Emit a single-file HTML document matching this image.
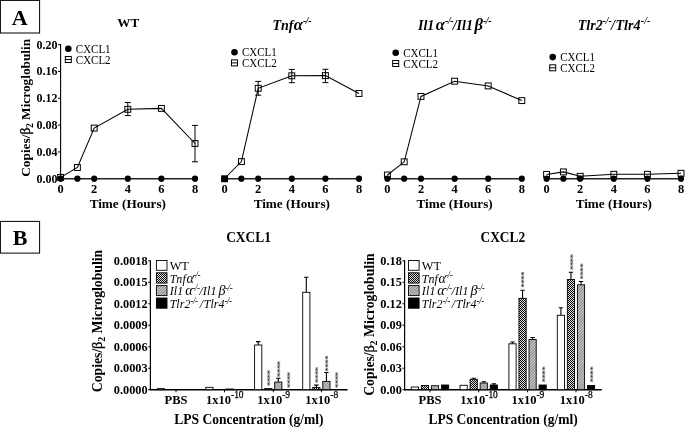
<!DOCTYPE html>
<html><head><meta charset="utf-8"><title>Figure</title>
<style>html,body{margin:0;padding:0;background:#fff;}svg{display:block;}text{font-family:"Liberation Serif", serif;fill:#000;}.b{font-weight:bold;}.i{font-style:italic;}.bi{font-weight:bold;font-style:italic;}.ast{fill:#3a3a3a;font-size:8.5px;font-weight:bold;letter-spacing:-0.35px;}</style></head><body>
<svg width="685" height="428" viewBox="0 0 685 428">
<defs>
<pattern id="chk" width="2" height="2" patternUnits="userSpaceOnUse"><rect width="2" height="2" fill="#e4e4e4"/><rect x="0" y="0" width="1" height="1" fill="#000"/><rect x="1" y="1" width="1" height="1" fill="#000"/></pattern>
<pattern id="hat" width="2" height="2" patternUnits="userSpaceOnUse" patternTransform="rotate(-45)"><rect width="2" height="2" fill="#cecece"/><rect width="2" height="0.9" fill="#808080"/></pattern>
</defs>
<rect width="685" height="428" fill="#fff"/>
<rect x="0.4" y="0.4" width="39.2" height="32.6" fill="#fff" stroke="#000" stroke-width="1"/>
<text class="b" x="19.80" y="25.10" font-size="22" text-anchor="middle">A</text>
<rect x="0.4" y="221.4" width="39.2" height="31.7" fill="#fff" stroke="#000" stroke-width="1"/>
<text class="b" x="20.20" y="245.00" font-size="22" text-anchor="middle">B</text>
<text class="b" font-size="13.3" text-anchor="middle" transform="translate(29.7,107.8) rotate(-90) scale(1.000 1)">Copies/<tspan font-size="14.0" dx="-0.2" font-weight="normal" stroke="#000" stroke-width="0.35">β</tspan><tspan font-size="9.6" dy="3" dx="-0.3">2</tspan><tspan dy="-3"> Microglobulin</tspan></text>
<path d="M60.60 44.10V179.30" stroke="#000" stroke-width="1.1" fill="none"/>
<path d="M58.00 178.80H60.60" stroke="#000" stroke-width="1"/>
<text class="b" x="57.60" y="182.80" font-size="12" text-anchor="end">0.00</text>
<path d="M58.00 151.96H60.60" stroke="#000" stroke-width="1"/>
<text class="b" x="57.60" y="155.96" font-size="12" text-anchor="end">0.04</text>
<path d="M58.00 125.12H60.60" stroke="#000" stroke-width="1"/>
<text class="b" x="57.60" y="129.12" font-size="12" text-anchor="end">0.08</text>
<path d="M58.00 98.28H60.60" stroke="#000" stroke-width="1"/>
<text class="b" x="57.60" y="102.28" font-size="12" text-anchor="end">0.12</text>
<path d="M58.00 71.44H60.60" stroke="#000" stroke-width="1"/>
<text class="b" x="57.60" y="75.44" font-size="12" text-anchor="end">0.16</text>
<path d="M58.00 44.60H60.60" stroke="#000" stroke-width="1"/>
<text class="b" x="57.60" y="48.60" font-size="12" text-anchor="end">0.20</text>
<path d="M60.10 178.80H195.50" stroke="#222" stroke-width="1.4" fill="none"/>
<path d="M60.60 178.80V181.80" stroke="#000" stroke-width="1"/>
<text class="b" x="60.60" y="192.80" font-size="12.4" text-anchor="middle">0</text>
<path d="M94.20 178.80V181.80" stroke="#000" stroke-width="1"/>
<text class="b" x="94.20" y="192.80" font-size="12.4" text-anchor="middle">2</text>
<path d="M127.80 178.80V181.80" stroke="#000" stroke-width="1"/>
<text class="b" x="127.80" y="192.80" font-size="12.4" text-anchor="middle">4</text>
<path d="M161.40 178.80V181.80" stroke="#000" stroke-width="1"/>
<text class="b" x="161.40" y="192.80" font-size="12.4" text-anchor="middle">6</text>
<path d="M195.00 178.80V181.80" stroke="#000" stroke-width="1"/>
<text class="b" x="195.00" y="192.80" font-size="12.4" text-anchor="middle">8</text>
<text class="b" x="127.80" y="208.20" font-size="13.2" text-anchor="middle">Time (Hours)</text>
<text class="b" x="128.20" y="27.00" font-size="13.2" text-anchor="middle">WT</text>
<polyline points="60.60,177.40 77.40,167.50 94.20,128.10 127.80,109.30 161.40,108.40 195.00,143.50" fill="none" stroke="#000" stroke-width="1.05"/>
<path d="M127.80 102.50V115.60M124.80 102.50H130.80M124.80 115.60H130.80" stroke="#000" stroke-width="1.0" fill="none"/>
<path d="M195.00 125.40V161.80M192.00 125.40H198.00M192.00 161.80H198.00" stroke="#000" stroke-width="1.0" fill="none"/>
<circle cx="60.60" cy="178.70" r="3.10" fill="#000"/>
<circle cx="77.40" cy="178.70" r="3.10" fill="#000"/>
<circle cx="94.20" cy="178.70" r="3.10" fill="#000"/>
<circle cx="127.80" cy="178.70" r="3.10" fill="#000"/>
<circle cx="161.40" cy="178.70" r="3.10" fill="#000"/>
<circle cx="195.00" cy="178.70" r="3.10" fill="#000"/>
<rect x="57.65" y="174.45" width="5.90" height="5.90" fill="none" stroke="#000" stroke-width="1.00"/>
<rect x="74.45" y="164.55" width="5.90" height="5.90" fill="none" stroke="#000" stroke-width="1.00"/>
<rect x="91.25" y="125.15" width="5.90" height="5.90" fill="none" stroke="#000" stroke-width="1.00"/>
<rect x="124.85" y="106.35" width="5.90" height="5.90" fill="none" stroke="#000" stroke-width="1.00"/>
<rect x="158.45" y="105.45" width="5.90" height="5.90" fill="none" stroke="#000" stroke-width="1.00"/>
<rect x="192.05" y="140.55" width="5.90" height="5.90" fill="none" stroke="#000" stroke-width="1.00"/>
<circle cx="68.30" cy="48.80" r="3.30" fill="#000"/>
<text transform="translate(75.80 52.70) scale(0.940 1)" font-size="11.7" text-anchor="start">CXCL1</text>
<rect x="65.30" y="56.50" width="6.00" height="6.00" fill="none" stroke="#000" stroke-width="1.00"/>
<path d="M65.30 59.50H71.30" stroke="#000" stroke-width="1"/>
<text transform="translate(75.80 63.70) scale(0.940 1)" font-size="11.7" text-anchor="start">CXCL2</text>
<path d="M224.10 178.80H359.50" stroke="#222" stroke-width="1.4" fill="none"/>
<path d="M224.60 178.80V181.80" stroke="#000" stroke-width="1"/>
<text class="b" x="224.60" y="192.80" font-size="12.4" text-anchor="middle">0</text>
<path d="M258.20 178.80V181.80" stroke="#000" stroke-width="1"/>
<text class="b" x="258.20" y="192.80" font-size="12.4" text-anchor="middle">2</text>
<path d="M291.80 178.80V181.80" stroke="#000" stroke-width="1"/>
<text class="b" x="291.80" y="192.80" font-size="12.4" text-anchor="middle">4</text>
<path d="M325.40 178.80V181.80" stroke="#000" stroke-width="1"/>
<text class="b" x="325.40" y="192.80" font-size="12.4" text-anchor="middle">6</text>
<path d="M359.00 178.80V181.80" stroke="#000" stroke-width="1"/>
<text class="b" x="359.00" y="192.80" font-size="12.4" text-anchor="middle">8</text>
<text class="b" x="291.80" y="208.20" font-size="13.2" text-anchor="middle">Time (Hours)</text>
<text class="bi" x="272.50" y="30.00" font-size="14" text-anchor="start">Tnf<tspan dx="0.3" font-size="16.5">α</tspan><tspan font-size="10" dy="-6.2" dx="0" letter-spacing="-0.4">-/-</tspan></text>
<polyline points="224.60,178.50 241.40,161.60 258.20,88.30 291.80,75.80 325.40,75.60 359.00,93.50" fill="none" stroke="#000" stroke-width="1.05"/>
<path d="M258.20 81.40V95.20M255.20 81.40H261.20M255.20 95.20H261.20" stroke="#000" stroke-width="1.0" fill="none"/>
<path d="M291.80 69.40V82.70M288.80 69.40H294.80M288.80 82.70H294.80" stroke="#000" stroke-width="1.0" fill="none"/>
<path d="M325.40 69.30V82.60M322.40 69.30H328.40M322.40 82.60H328.40" stroke="#000" stroke-width="1.0" fill="none"/>
<circle cx="241.40" cy="178.70" r="3.10" fill="#000"/>
<circle cx="258.20" cy="178.70" r="3.10" fill="#000"/>
<circle cx="291.80" cy="178.70" r="3.10" fill="#000"/>
<circle cx="325.40" cy="178.70" r="3.10" fill="#000"/>
<circle cx="359.00" cy="178.70" r="3.10" fill="#000"/>
<rect x="221.65" y="175.85" width="5.90" height="5.90" fill="#000" stroke="#000" stroke-width="1.00"/>
<rect x="238.45" y="158.65" width="5.90" height="5.90" fill="none" stroke="#000" stroke-width="1.00"/>
<rect x="255.25" y="85.35" width="5.90" height="5.90" fill="none" stroke="#000" stroke-width="1.00"/>
<rect x="288.85" y="72.85" width="5.90" height="5.90" fill="none" stroke="#000" stroke-width="1.00"/>
<rect x="322.45" y="72.65" width="5.90" height="5.90" fill="none" stroke="#000" stroke-width="1.00"/>
<rect x="356.05" y="90.55" width="5.90" height="5.90" fill="none" stroke="#000" stroke-width="1.00"/>
<circle cx="234.50" cy="52.20" r="3.30" fill="#000"/>
<text transform="translate(242.00 56.10) scale(0.940 1)" font-size="11.7" text-anchor="start">CXCL1</text>
<rect x="231.50" y="59.90" width="6.00" height="6.00" fill="none" stroke="#000" stroke-width="1.00"/>
<path d="M231.50 62.90H237.50" stroke="#000" stroke-width="1"/>
<text transform="translate(242.00 67.10) scale(0.940 1)" font-size="11.7" text-anchor="start">CXCL2</text>
<path d="M386.90 178.80H522.30" stroke="#222" stroke-width="1.4" fill="none"/>
<path d="M387.40 178.80V181.80" stroke="#000" stroke-width="1"/>
<text class="b" x="387.40" y="192.80" font-size="12.4" text-anchor="middle">0</text>
<path d="M421.00 178.80V181.80" stroke="#000" stroke-width="1"/>
<text class="b" x="421.00" y="192.80" font-size="12.4" text-anchor="middle">2</text>
<path d="M454.60 178.80V181.80" stroke="#000" stroke-width="1"/>
<text class="b" x="454.60" y="192.80" font-size="12.4" text-anchor="middle">4</text>
<path d="M488.20 178.80V181.80" stroke="#000" stroke-width="1"/>
<text class="b" x="488.20" y="192.80" font-size="12.4" text-anchor="middle">6</text>
<path d="M521.80 178.80V181.80" stroke="#000" stroke-width="1"/>
<text class="b" x="521.80" y="192.80" font-size="12.4" text-anchor="middle">8</text>
<text class="b" x="454.60" y="208.20" font-size="13.2" text-anchor="middle">Time (Hours)</text>
<text class="bi" x="418.00" y="30.00" font-size="14" text-anchor="start">Il1<tspan dx="1.5" font-size="16.5">α</tspan><tspan font-size="10" dy="-6.2" dx="0" letter-spacing="-0.4">-/-</tspan><tspan dy="6.2" dx="-0.5">/Il1</tspan><tspan dx="1.5" font-size="16.5">β</tspan><tspan font-size="10" dy="-6.2" dx="0" letter-spacing="-0.4">-/-</tspan></text>
<polyline points="387.40,175.00 404.20,161.80 421.00,96.40 454.60,81.20 488.20,85.90 521.80,100.60" fill="none" stroke="#000" stroke-width="1.05"/>
<circle cx="387.40" cy="178.70" r="3.10" fill="#000"/>
<circle cx="404.20" cy="178.70" r="3.10" fill="#000"/>
<circle cx="421.00" cy="178.70" r="3.10" fill="#000"/>
<circle cx="454.60" cy="178.70" r="3.10" fill="#000"/>
<circle cx="488.20" cy="178.70" r="3.10" fill="#000"/>
<circle cx="521.80" cy="178.70" r="3.10" fill="#000"/>
<rect x="384.45" y="172.05" width="5.90" height="5.90" fill="none" stroke="#000" stroke-width="1.00"/>
<rect x="401.25" y="158.85" width="5.90" height="5.90" fill="none" stroke="#000" stroke-width="1.00"/>
<rect x="418.05" y="93.45" width="5.90" height="5.90" fill="none" stroke="#000" stroke-width="1.00"/>
<rect x="451.65" y="78.25" width="5.90" height="5.90" fill="none" stroke="#000" stroke-width="1.00"/>
<rect x="485.25" y="82.95" width="5.90" height="5.90" fill="none" stroke="#000" stroke-width="1.00"/>
<rect x="518.85" y="97.65" width="5.90" height="5.90" fill="none" stroke="#000" stroke-width="1.00"/>
<circle cx="395.70" cy="52.80" r="3.30" fill="#000"/>
<text transform="translate(403.20 56.70) scale(0.940 1)" font-size="11.7" text-anchor="start">CXCL1</text>
<rect x="392.70" y="60.50" width="6.00" height="6.00" fill="none" stroke="#000" stroke-width="1.00"/>
<path d="M392.70 63.50H398.70" stroke="#000" stroke-width="1"/>
<text transform="translate(403.20 67.70) scale(0.940 1)" font-size="11.7" text-anchor="start">CXCL2</text>
<path d="M546.10 178.80H681.50" stroke="#222" stroke-width="1.4" fill="none"/>
<path d="M546.60 178.80V181.80" stroke="#000" stroke-width="1"/>
<text class="b" x="546.60" y="192.80" font-size="12.4" text-anchor="middle">0</text>
<path d="M580.20 178.80V181.80" stroke="#000" stroke-width="1"/>
<text class="b" x="580.20" y="192.80" font-size="12.4" text-anchor="middle">2</text>
<path d="M613.80 178.80V181.80" stroke="#000" stroke-width="1"/>
<text class="b" x="613.80" y="192.80" font-size="12.4" text-anchor="middle">4</text>
<path d="M647.40 178.80V181.80" stroke="#000" stroke-width="1"/>
<text class="b" x="647.40" y="192.80" font-size="12.4" text-anchor="middle">6</text>
<path d="M681.00 178.80V181.80" stroke="#000" stroke-width="1"/>
<text class="b" x="681.00" y="192.80" font-size="12.4" text-anchor="middle">8</text>
<text class="b" x="613.80" y="208.20" font-size="13.2" text-anchor="middle">Time (Hours)</text>
<text class="bi" x="577.80" y="30.00" font-size="14" text-anchor="start">Tlr2<tspan font-size="10" dy="-6.2" dx="-0.3" letter-spacing="0">-/-</tspan><tspan dy="6.2" dx="-0.8">/</tspan><tspan dx="0.6">Tlr4</tspan><tspan font-size="10" dy="-6.2" dx="0.3" letter-spacing="0.1">-/-</tspan></text>
<polyline points="546.60,174.40 563.40,171.90 580.20,176.30 613.80,174.30 647.40,174.30 681.00,173.30" fill="none" stroke="#000" stroke-width="1.05"/>
<circle cx="546.60" cy="178.70" r="3.10" fill="#000"/>
<circle cx="563.40" cy="178.70" r="3.10" fill="#000"/>
<circle cx="580.20" cy="178.70" r="3.10" fill="#000"/>
<circle cx="613.80" cy="178.70" r="3.10" fill="#000"/>
<circle cx="647.40" cy="178.70" r="3.10" fill="#000"/>
<circle cx="681.00" cy="178.70" r="3.10" fill="#000"/>
<rect x="543.65" y="171.45" width="5.90" height="5.90" fill="none" stroke="#000" stroke-width="1.00"/>
<rect x="560.45" y="168.95" width="5.90" height="5.90" fill="none" stroke="#000" stroke-width="1.00"/>
<rect x="577.25" y="173.35" width="5.90" height="5.90" fill="none" stroke="#000" stroke-width="1.00"/>
<rect x="610.85" y="171.35" width="5.90" height="5.90" fill="none" stroke="#000" stroke-width="1.00"/>
<rect x="644.45" y="171.35" width="5.90" height="5.90" fill="none" stroke="#000" stroke-width="1.00"/>
<rect x="678.05" y="170.35" width="5.90" height="5.90" fill="none" stroke="#000" stroke-width="1.00"/>
<circle cx="552.70" cy="57.10" r="3.30" fill="#000"/>
<text transform="translate(560.20 61.00) scale(0.940 1)" font-size="11.7" text-anchor="start">CXCL1</text>
<rect x="549.70" y="64.80" width="6.00" height="6.00" fill="none" stroke="#000" stroke-width="1.00"/>
<path d="M549.70 67.80H555.70" stroke="#000" stroke-width="1"/>
<text transform="translate(560.20 72.00) scale(0.940 1)" font-size="11.7" text-anchor="start">CXCL2</text>
<path d="M150.40 260.32V390.30" stroke="#000" stroke-width="1.2" fill="none"/>
<path d="M149.80 389.70H347.60" stroke="#000" stroke-width="1.35" fill="none"/>
<path d="M148.20 389.70H150.40" stroke="#000" stroke-width="1"/>
<text class="b" x="147.60" y="393.80" font-size="12.3" text-anchor="end">0.0000</text>
<path d="M148.20 368.22H150.40" stroke="#000" stroke-width="1"/>
<text class="b" x="147.60" y="372.32" font-size="12.3" text-anchor="end">0.0003</text>
<path d="M148.20 346.74H150.40" stroke="#000" stroke-width="1"/>
<text class="b" x="147.60" y="350.84" font-size="12.3" text-anchor="end">0.0006</text>
<path d="M148.20 325.26H150.40" stroke="#000" stroke-width="1"/>
<text class="b" x="147.60" y="329.36" font-size="12.3" text-anchor="end">0.0009</text>
<path d="M148.20 303.78H150.40" stroke="#000" stroke-width="1"/>
<text class="b" x="147.60" y="307.88" font-size="12.3" text-anchor="end">0.0012</text>
<path d="M148.20 282.30H150.40" stroke="#000" stroke-width="1"/>
<text class="b" x="147.60" y="286.40" font-size="12.3" text-anchor="end">0.0015</text>
<path d="M148.20 260.82H150.40" stroke="#000" stroke-width="1"/>
<text class="b" x="147.60" y="264.92" font-size="12.3" text-anchor="end">0.0018</text>
<text class="b" transform="translate(248.50 241.80) scale(0.940 1)" font-size="14.3" text-anchor="middle">CXCL1</text>
<text class="b" font-size="14.3" text-anchor="middle" transform="translate(102.1,321.0) rotate(-90) scale(0.962 1)">Copies/<tspan font-size="15.0" dx="-0.2" font-weight="normal" stroke="#000" stroke-width="0.35">β</tspan><tspan font-size="10.3" dy="3" dx="-0.3">2</tspan><tspan dy="-3"> Microglobulin</tspan></text>
<path d="M176.00 389.70V392.30" stroke="#000" stroke-width="1"/>
<text class="b" transform="translate(176.00 404.40) scale(0.985 1)" font-size="12.7" text-anchor="middle">PBS</text>
<rect x="157.30" y="388.60" width="7.2" height="1.10" fill="#fff" stroke="#000" stroke-width="0.9"/>
<path d="M224.50 389.70V392.30" stroke="#000" stroke-width="1"/>
<text class="b" transform="translate(224.80 404.40) scale(0.985 1)" font-size="12.7" text-anchor="middle">1x10<tspan font-size="9.6" dy="-6.2" font-weight="normal" stroke="#000" stroke-width="0.25">-10</tspan></text>
<rect x="205.80" y="387.30" width="7.2" height="2.40" fill="#fff" stroke="#000" stroke-width="0.9"/>
<rect x="225.90" y="389.00" width="7.2" height="0.70" fill="url(#hat)" stroke="#000" stroke-width="0.9"/>
<path d="M273.30 389.70V392.30" stroke="#000" stroke-width="1"/>
<text class="b" transform="translate(273.60 404.40) scale(0.985 1)" font-size="12.7" text-anchor="middle">1x10<tspan font-size="9.6" dy="-6.2" font-weight="normal" stroke="#000" stroke-width="0.25">-9</tspan></text>
<path d="M258.20 345.00V341.60M256.00 341.60H260.40" stroke="#000" stroke-width="1.1" fill="none"/>
<rect x="254.60" y="345.00" width="7.2" height="44.70" fill="#fff" stroke="#000" stroke-width="0.9"/>
<rect x="264.65" y="388.60" width="7.2" height="1.10" fill="url(#chk)" stroke="#000" stroke-width="0.9"/>
<path d="M278.30 382.10V378.30M276.10 378.30H280.50" stroke="#000" stroke-width="1.1" fill="none"/>
<rect x="274.70" y="382.10" width="7.2" height="7.60" fill="url(#hat)" stroke="#000" stroke-width="0.9"/>
<path d="M321.40 389.70V392.30" stroke="#000" stroke-width="1"/>
<text class="b" transform="translate(321.70 404.40) scale(0.985 1)" font-size="12.7" text-anchor="middle">1x10<tspan font-size="9.6" dy="-6.2" font-weight="normal" stroke="#000" stroke-width="0.25">-8</tspan></text>
<path d="M306.30 292.30V277.30M304.10 277.30H308.50" stroke="#000" stroke-width="1.1" fill="none"/>
<rect x="302.70" y="292.30" width="7.2" height="97.40" fill="#fff" stroke="#000" stroke-width="0.9"/>
<path d="M316.35 387.50V385.10M314.15 385.10H318.55" stroke="#000" stroke-width="1.1" fill="none"/>
<rect x="312.75" y="387.50" width="7.2" height="2.20" fill="url(#chk)" stroke="#000" stroke-width="0.9"/>
<path d="M326.40 381.40V372.50M324.20 372.50H328.60" stroke="#000" stroke-width="1.1" fill="none"/>
<rect x="322.80" y="381.40" width="7.2" height="8.30" fill="url(#hat)" stroke="#000" stroke-width="0.9"/>
<text class="ast" transform="translate(272.5,386.0) rotate(-90)">****</text>
<text class="ast" transform="translate(282.5,376.9) rotate(-90)">****</text>
<text class="ast" transform="translate(293.2,387.9) rotate(-90)">****</text>
<text class="ast" transform="translate(320.8,382.9) rotate(-90)">****</text>
<text class="ast" transform="translate(331.2,371.5) rotate(-90)">****</text>
<text class="ast" transform="translate(341.0,387.9) rotate(-90)">****</text>
<text class="b" transform="translate(248.90 424.30) scale(0.945 1)" font-size="14.3" text-anchor="middle">LPS Concentration (g/ml)</text>
<rect x="156.40" y="260.50" width="10.6" height="9.8" fill="#fff" stroke="#000" stroke-width="0.9"/>
<rect x="156.40" y="272.80" width="10.6" height="10.3" fill="url(#chk)" stroke="#000" stroke-width="0.9"/>
<rect x="156.40" y="285.60" width="10.6" height="10.0" fill="url(#hat)" stroke="#000" stroke-width="0.9"/>
<rect x="156.40" y="298.00" width="10.6" height="10.2" fill="#000" stroke="#000" stroke-width="0.9"/>
<text transform="translate(169.70 269.70) scale(0.930 1)" font-size="13.2" text-anchor="start">WT</text>
<text class="i" transform="translate(169.70 283.00) scale(0.910 1)" font-size="13.2" text-anchor="start">Tnf<tspan dx="0.8" font-size="15.5">α</tspan><tspan font-size="10" dy="-4.6" dx="-1" letter-spacing="-0.48">-/-</tspan></text>
<text class="i" transform="translate(169.70 295.20) scale(0.910 1)" font-size="13.2" text-anchor="start"><tspan letter-spacing="0.15">Il1</tspan><tspan dx="2" font-size="15.5">α</tspan><tspan font-size="10" dy="-4.6" dx="-0.5" letter-spacing="-0.48">-/-</tspan><tspan dy="4.6" dx="0">/</tspan><tspan letter-spacing="0.15">Il1</tspan><tspan dx="2" font-size="15.5">β</tspan><tspan font-size="10" dy="-4.6" dx="-0.5" letter-spacing="-0.48">-/-</tspan></text>
<text class="i" transform="translate(169.70 308.30) scale(0.910 1)" font-size="13.2" text-anchor="start">Tlr2<tspan font-size="10" dy="-4.6" dx="0" letter-spacing="-0.48">-/-</tspan><tspan dy="4.6" dx="2.2">/</tspan><tspan dx="0.8">Tlr4</tspan><tspan font-size="10" dy="-4.6" dx="0" letter-spacing="-0.48">-/-</tspan></text>
<path d="M404.60 260.32V390.30" stroke="#000" stroke-width="1.2" fill="none"/>
<path d="M404.00 389.70H601.80" stroke="#000" stroke-width="1.35" fill="none"/>
<path d="M402.40 389.70H404.60" stroke="#000" stroke-width="1"/>
<text class="b" x="401.80" y="393.80" font-size="12.3" text-anchor="end">0.00</text>
<path d="M402.40 368.22H404.60" stroke="#000" stroke-width="1"/>
<text class="b" x="401.80" y="372.32" font-size="12.3" text-anchor="end">0.03</text>
<path d="M402.40 346.74H404.60" stroke="#000" stroke-width="1"/>
<text class="b" x="401.80" y="350.84" font-size="12.3" text-anchor="end">0.06</text>
<path d="M402.40 325.26H404.60" stroke="#000" stroke-width="1"/>
<text class="b" x="401.80" y="329.36" font-size="12.3" text-anchor="end">0.09</text>
<path d="M402.40 303.78H404.60" stroke="#000" stroke-width="1"/>
<text class="b" x="401.80" y="307.88" font-size="12.3" text-anchor="end">0.12</text>
<path d="M402.40 282.30H404.60" stroke="#000" stroke-width="1"/>
<text class="b" x="401.80" y="286.40" font-size="12.3" text-anchor="end">0.15</text>
<path d="M402.40 260.82H404.60" stroke="#000" stroke-width="1"/>
<text class="b" x="401.80" y="264.92" font-size="12.3" text-anchor="end">0.18</text>
<text class="b" transform="translate(502.80 241.80) scale(0.940 1)" font-size="14.3" text-anchor="middle">CXCL2</text>
<text class="b" font-size="14.3" text-anchor="middle" transform="translate(373.6,324.6) rotate(-90) scale(0.962 1)">Copies/<tspan font-size="15.0" dx="-0.2" font-weight="normal" stroke="#000" stroke-width="0.35">β</tspan><tspan font-size="10.3" dy="3" dx="-0.3">2</tspan><tspan dy="-3"> Microglobulin</tspan></text>
<path d="M430.00 389.70V392.30" stroke="#000" stroke-width="1"/>
<text class="b" transform="translate(430.00 404.40) scale(0.985 1)" font-size="12.7" text-anchor="middle">PBS</text>
<rect x="411.30" y="387.00" width="7.2" height="2.70" fill="#fff" stroke="#000" stroke-width="0.9"/>
<rect x="421.35" y="385.50" width="7.2" height="4.20" fill="url(#chk)" stroke="#000" stroke-width="0.9"/>
<rect x="431.40" y="385.70" width="7.2" height="4.00" fill="url(#hat)" stroke="#000" stroke-width="0.9"/>
<rect x="441.45" y="385.00" width="7.2" height="4.70" fill="#000" stroke="#000" stroke-width="0.9"/>
<path d="M478.75 389.70V392.30" stroke="#000" stroke-width="1"/>
<text class="b" transform="translate(479.05 404.40) scale(0.985 1)" font-size="12.7" text-anchor="middle">1x10<tspan font-size="9.6" dy="-6.2" font-weight="normal" stroke="#000" stroke-width="0.25">-10</tspan></text>
<rect x="460.05" y="385.30" width="7.2" height="4.40" fill="#fff" stroke="#000" stroke-width="0.9"/>
<path d="M473.70 379.30V378.30M471.50 378.30H475.90" stroke="#000" stroke-width="1.1" fill="none"/>
<rect x="470.10" y="379.30" width="7.2" height="10.40" fill="url(#chk)" stroke="#000" stroke-width="0.9"/>
<path d="M483.75 383.00V381.80M481.55 381.80H485.95" stroke="#000" stroke-width="1.1" fill="none"/>
<rect x="480.15" y="383.00" width="7.2" height="6.70" fill="url(#hat)" stroke="#000" stroke-width="0.9"/>
<path d="M493.80 385.00V383.80M491.60 383.80H496.00" stroke="#000" stroke-width="1.1" fill="none"/>
<rect x="490.20" y="385.00" width="7.2" height="4.70" fill="#000" stroke="#000" stroke-width="0.9"/>
<path d="M527.60 389.70V392.30" stroke="#000" stroke-width="1"/>
<text class="b" transform="translate(527.90 404.40) scale(0.985 1)" font-size="12.7" text-anchor="middle">1x10<tspan font-size="9.6" dy="-6.2" font-weight="normal" stroke="#000" stroke-width="0.25">-9</tspan></text>
<path d="M512.50 343.80V342.00M510.30 342.00H514.70" stroke="#000" stroke-width="1.1" fill="none"/>
<rect x="508.90" y="343.80" width="7.2" height="45.90" fill="#fff" stroke="#000" stroke-width="0.9"/>
<path d="M522.55 298.30V290.30M520.35 290.30H524.75" stroke="#000" stroke-width="1.1" fill="none"/>
<rect x="518.95" y="298.30" width="7.2" height="91.40" fill="url(#chk)" stroke="#000" stroke-width="0.9"/>
<path d="M532.60 339.50V337.50M530.40 337.50H534.80" stroke="#000" stroke-width="1.1" fill="none"/>
<rect x="529.00" y="339.50" width="7.2" height="50.20" fill="url(#hat)" stroke="#000" stroke-width="0.9"/>
<rect x="539.05" y="385.00" width="7.2" height="4.70" fill="#000" stroke="#000" stroke-width="0.9"/>
<path d="M576.00 389.70V392.30" stroke="#000" stroke-width="1"/>
<text class="b" transform="translate(576.30 404.40) scale(0.985 1)" font-size="12.7" text-anchor="middle">1x10<tspan font-size="9.6" dy="-6.2" font-weight="normal" stroke="#000" stroke-width="0.25">-8</tspan></text>
<path d="M560.90 315.30V307.80M558.70 307.80H563.10" stroke="#000" stroke-width="1.1" fill="none"/>
<rect x="557.30" y="315.30" width="7.2" height="74.40" fill="#fff" stroke="#000" stroke-width="0.9"/>
<path d="M570.95 279.50V272.30M568.75 272.30H573.15" stroke="#000" stroke-width="1.1" fill="none"/>
<rect x="567.35" y="279.50" width="7.2" height="110.20" fill="url(#chk)" stroke="#000" stroke-width="0.9"/>
<path d="M581.00 284.80V281.50M578.80 281.50H583.20" stroke="#000" stroke-width="1.1" fill="none"/>
<rect x="577.40" y="284.80" width="7.2" height="104.90" fill="url(#hat)" stroke="#000" stroke-width="0.9"/>
<rect x="587.45" y="385.50" width="7.2" height="4.20" fill="#000" stroke="#000" stroke-width="0.9"/>
<text class="ast" transform="translate(526.9,287.5) rotate(-90)">****</text>
<text class="ast" transform="translate(548.1,382.2) rotate(-90)">****</text>
<text class="ast" transform="translate(575.6,270.0) rotate(-90)">****</text>
<text class="ast" transform="translate(585.6,279.2) rotate(-90)">****</text>
<text class="ast" transform="translate(596.1,382.2) rotate(-90)">****</text>
<text class="b" transform="translate(503.10 424.30) scale(0.945 1)" font-size="14.3" text-anchor="middle">LPS Concentration (g/ml)</text>
<rect x="408.50" y="260.50" width="10.6" height="9.8" fill="#fff" stroke="#000" stroke-width="0.9"/>
<rect x="408.50" y="272.80" width="10.6" height="10.3" fill="url(#chk)" stroke="#000" stroke-width="0.9"/>
<rect x="408.50" y="285.60" width="10.6" height="10.0" fill="url(#hat)" stroke="#000" stroke-width="0.9"/>
<rect x="408.50" y="298.00" width="10.6" height="10.2" fill="#000" stroke="#000" stroke-width="0.9"/>
<text transform="translate(421.80 269.70) scale(0.930 1)" font-size="13.2" text-anchor="start">WT</text>
<text class="i" transform="translate(421.80 283.00) scale(0.910 1)" font-size="13.2" text-anchor="start">Tnf<tspan dx="0.8" font-size="15.5">α</tspan><tspan font-size="10" dy="-4.6" dx="-1" letter-spacing="-0.48">-/-</tspan></text>
<text class="i" transform="translate(421.80 295.20) scale(0.910 1)" font-size="13.2" text-anchor="start"><tspan letter-spacing="0.15">Il1</tspan><tspan dx="2" font-size="15.5">α</tspan><tspan font-size="10" dy="-4.6" dx="-0.5" letter-spacing="-0.48">-/-</tspan><tspan dy="4.6" dx="0">/</tspan><tspan letter-spacing="0.15">Il1</tspan><tspan dx="2" font-size="15.5">β</tspan><tspan font-size="10" dy="-4.6" dx="-0.5" letter-spacing="-0.48">-/-</tspan></text>
<text class="i" transform="translate(421.80 308.30) scale(0.910 1)" font-size="13.2" text-anchor="start">Tlr2<tspan font-size="10" dy="-4.6" dx="0" letter-spacing="-0.48">-/-</tspan><tspan dy="4.6" dx="2.2">/</tspan><tspan dx="0.8">Tlr4</tspan><tspan font-size="10" dy="-4.6" dx="0" letter-spacing="-0.48">-/-</tspan></text>
</svg></body></html>
